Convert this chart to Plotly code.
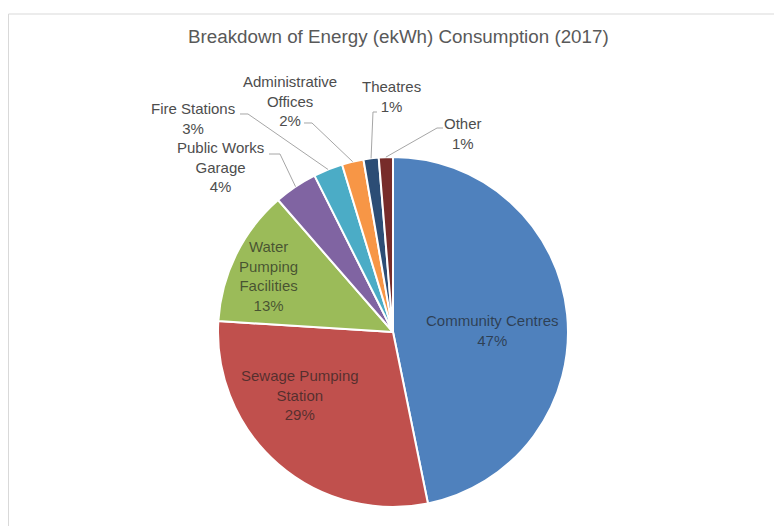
import plotly.graph_objects as go
import math

W, H = 774, 526

title = "Breakdown of Energy (ekWh) Consumption (2017)"
categories = ["Community Centres", "Sewage Pumping Station", "Water Pumping Facilities",
              "Public Works Garage", "Fire Stations", "Administrative Offices",
              "Theatres", "Other"]
values = [46.8, 29.2, 12.6, 4.0, 2.7, 2.0, 1.4, 1.3]
label_lines = ["Community Centres", "Sewage Pumping<br>Station", "Water<br>Pumping<br>Facilities",
               "Public Works<br>Garage", "Fire Stations", "Administrative<br>Offices",
               "Theatres", "Other"]
colors = ["#4F81BD", "#C0504D", "#9BBB59", "#8064A2", "#4BACC6", "#F79646", "#2C4D75", "#772C2A"]

# layout (pixel) settings
cx, cy, R = 393, 332, 175
label_pos = [(493, 330), (300, 395), (268, 276), (220, 167), (193, 118), (290, 101), (391, 97), (463, 133)]
inside = [True, True, True, False, False, False, False, False]
# leader line start + elbow points for outside labels
leader = {3: [(269, 154), (280, 154)], 4: [(240, 114), (248, 114)], 5: [(304, 123), (312, 123)],
          6: [(377, 112), (373, 112)], 7: [(443, 128), (437, 128)]}

def px(x):
    return x / W

def py(y):
    return 1 - y / H

fig = go.Figure()
fig.add_trace(go.Pie(
    labels=categories, values=values, sort=False, direction="clockwise", rotation=0,
    marker=dict(colors=colors, line=dict(color="white", width=2)),
    textinfo="none", hoverinfo="label+percent", showlegend=False,
    domain=dict(x=[px(cx - R), px(cx + R)], y=[py(cy + R), py(cy - R)]),
))

total = sum(values)
annotations = []
shapes = []
cum = 0
for i, v in enumerate(values):
    pct = round(100 * v / total)
    mid = (cum + v / 2) / total * 2 * math.pi
    cum += v
    text = f"{label_lines[i]}<br>{pct}%"
    lx, ly = label_pos[i]
    annotations.append(dict(
        x=px(lx), y=py(ly), xref="paper", yref="paper", text=text, showarrow=False,
        xanchor="center", yanchor="middle", align="center",
        font=dict(family="Liberation Sans, Arial", size=15,
                  color="rgba(30,30,30,0.68)" if inside[i] else "#4D4D4D"),
    ))
    if i in leader:
        ex = cx + R * math.sin(mid)
        ey = cy - R * math.cos(mid)
        pts = leader[i] + [(ex, ey)]
        path = "M " + " L ".join(f"{px(x):.5f},{py(y):.5f}" for x, y in pts)
        shapes.append(dict(type="path", path=path, xref="paper", yref="paper",
                           line=dict(color="#A6A6A6", width=1)))

# chart frame
shapes.append(dict(type="line", xref="paper", yref="paper", x0=px(8.5), x1=px(8.5), y0=py(14), y1=py(530),
                   line=dict(color="#D9D9D9", width=1)))
shapes.append(dict(type="line", xref="paper", yref="paper", x0=px(8.5), x1=px(780), y0=py(14), y1=py(14),
                   line=dict(color="#D9D9D9", width=1)))

annotations.append(dict(x=px(398), y=py(37), xref="paper", yref="paper", text=title, showarrow=False,
                        xanchor="center", yanchor="middle",
                        font=dict(family="Liberation Sans, Arial", size=18.8, color="#595959")))

fig.update_layout(
    width=W, height=H, margin=dict(l=0, r=0, t=0, b=0),
    paper_bgcolor="white", plot_bgcolor="white",
    annotations=annotations, shapes=shapes,
)

fig.write_html("out.html")
